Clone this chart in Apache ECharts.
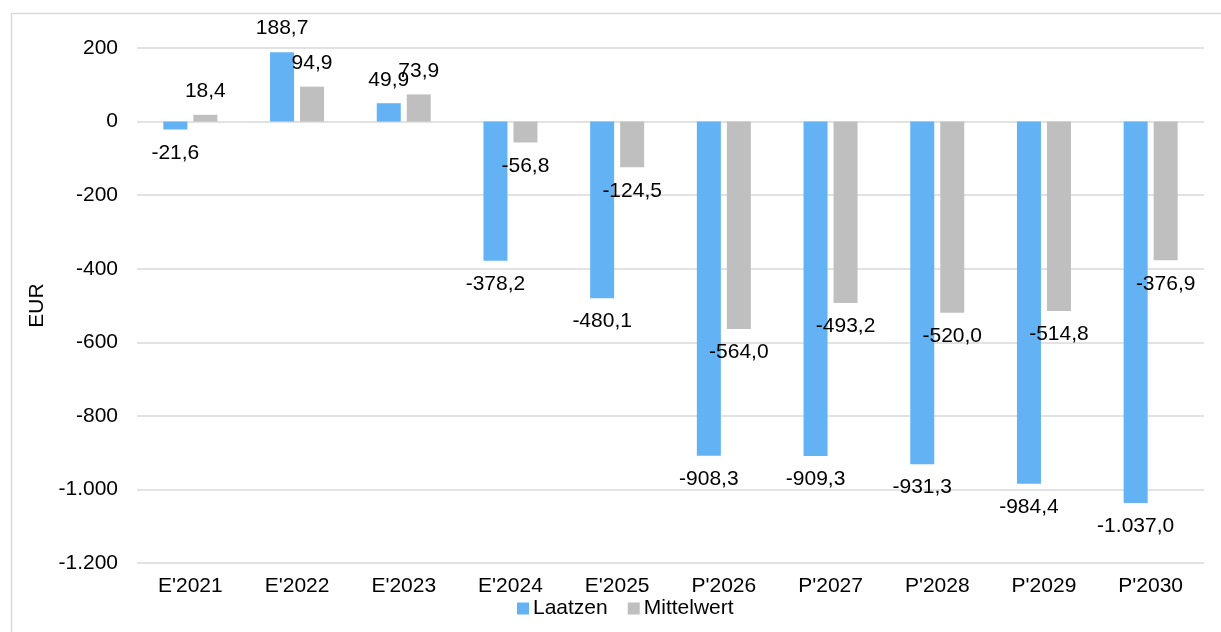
<!DOCTYPE html>
<html>
<head>
<meta charset="utf-8">
<script src="https://cdn.jsdelivr.net/npm/echarts@6/dist/echarts.min.js"></script>
<style>
html,body{margin:0;padding:0;background:#fff;}
#chart{width:1221px;height:632px;}
</style>
</head>
<body>
<div id="chart"></div>
<script>
const categories = ["E'2021","E'2022","E'2023","E'2024","E'2025","P'2026","P'2027","P'2028","P'2029","P'2030"];
const laatzen = [-21.6, 188.7, 49.9, -378.2, -480.1, -908.3, -909.3, -931.3, -984.4, -1037.0];
const mittelwert = [18.4, 94.9, 73.9, -56.8, -124.5, -564.0, -493.2, -520.0, -514.8, -376.9];
const seriesNames = ["Laatzen", "Mittelwert"];
const axisName = "EUR";

const FONT = "'Liberation Sans', Arial, sans-serif";
const FS = 21;
function fmtDe(v, dec) {
  const neg = v < 0;
  const a = Math.abs(v).toFixed(dec);
  let [i, f] = a.split('.');
  i = i.replace(/\B(?=(\d{3})+(?!\d))/g, '.');
  return (neg ? '-' : '') + i + (f !== undefined ? ',' + f : '');
}

const chart = echarts.init(document.getElementById('chart'), null, {renderer: 'canvas'});
const labelCfg = {
  show: true,
  position: 'outside',
  distance: 13,
  color: '#000',
  fontFamily: FONT,
  fontSize: FS,
  formatter: p => fmtDe(p.value, 1)
};
chart.setOption({
  backgroundColor: '#fff',
  animation: false,
  textStyle: {fontFamily: FONT},
  graphic: [{
    type: 'rect',
    left: 9, top: 11,
    shape: {width: 1400, height: 800},
    style: {fill: 'none', stroke: '#D9D9D9', lineWidth: 1.5},
    silent: true, z: -10
  }],
  grid: {left: 137, right: 17, top: 48, bottom: 69, outerBoundsMode: 'none'},
  legend: {
    data: seriesNames,
    left: 512, top: 593,
    icon: 'rect',
    itemWidth: 12, itemHeight: 12, itemGap: 20,
    textStyle: {fontFamily: FONT, fontSize: FS, color: '#000', padding: [0,0,0,-1]}
  },
  xAxis: {
    type: 'category',
    data: categories,
    axisLine: {show: false},
    axisTick: {show: false},
    axisLabel: {color: '#000', fontFamily: FONT, fontSize: FS, margin: 13}
  },
  yAxis: {
    type: 'value',
    min: -1200, max: 200, interval: 200,
    name: axisName,
    nameLocation: 'middle',
    nameGap: 89,
    nameTextStyle: {color: '#000', fontFamily: FONT, fontSize: FS},
    axisLine: {show: false},
    axisTick: {show: false},
    splitLine: {lineStyle: {color: '#D9D9D9', width: 1.5}},
    axisLabel: {color: '#000', fontFamily: FONT, fontSize: FS, margin: 19, formatter: v => fmtDe(v, 0)}
  },
  series: [
    {name: seriesNames[0], type: 'bar', data: laatzen, barWidth: 24, barGap: '25%',
     itemStyle: {color: '#63B3F4'}, label: labelCfg},
    {name: seriesNames[1], type: 'bar', data: mittelwert, barWidth: 24, barGap: '25%',
     itemStyle: {color: '#BFBFBF'}, label: labelCfg}
  ]
});
</script>
</body>
</html>
